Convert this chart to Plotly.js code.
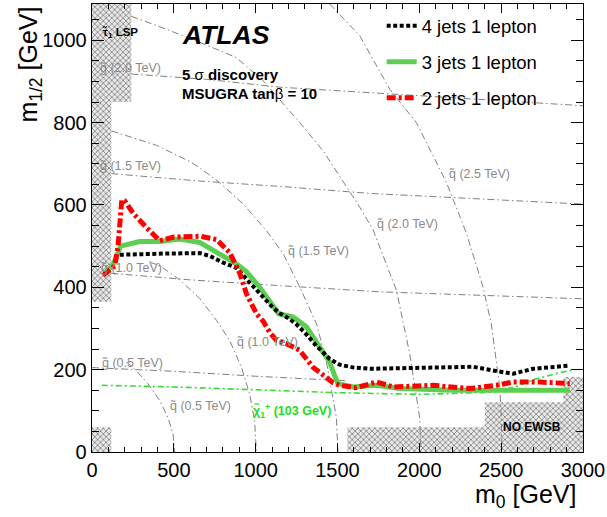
<!DOCTYPE html>
<html>
<head>
<meta charset="utf-8">
<script src="https://cdn.plot.ly/plotly-3.0.1.min.js"></script>
<style>html,body{margin:0;padding:0;background:#fff;}#chart{width:607px;height:517px;}</style>
</head>
<body>
<div id="chart"></div>
<script>
// ---------------- data (GeV) ----------------
const seriesNames = ["4 jets 1 lepton", "3 jets 1 lepton", "2 jets 1 lepton"];

const m0_4j  = [170, 300, 450, 659, 720, 801, 883, 943, 1046, 1107, 1147, 1200, 1249, 1300, 1371, 1452, 1513, 1600, 1700, 1880, 2083, 2328, 2450, 2572, 2694, 2919];
const m12_4j = [479, 481, 482, 483, 476, 460, 447, 420, 376, 350, 337, 325, 310, 290, 258, 226, 212, 205, 202, 203, 205, 207, 198, 190, 202, 210];

const m0_3j  = [78, 128, 175, 291, 414, 536, 658, 770, 882, 943, 1025, 1140, 1228, 1310, 1391, 1452, 1483, 1503, 1595, 1738, 1880, 2206, 2491, 2919];
const m12_3j = [434, 454, 500, 511, 511, 517, 509, 484, 457, 438, 400, 336, 328, 304, 252, 218, 185, 166, 158, 162, 154, 150, 150, 150];

const m0_2j  = [67, 139, 159, 172, 182, 200, 251, 333, 414, 500, 598, 659, 761, 842, 903, 944, 1006, 1045, 1087, 1127, 1188, 1269, 1350, 1432, 1473, 1513, 1615, 1738, 1839, 2083, 2308, 2471, 2572, 2735, 2919];
const m12_2j = [429, 452, 499, 590, 612, 610, 580, 545, 513, 522, 524, 524, 516, 484, 434, 384, 335, 318, 290, 271, 263, 247, 206, 182, 168, 162, 156, 170, 158, 162, 154, 162, 170, 170, 166];

// chargino 103 GeV contour
const m0_chi  = [60, 500, 1000, 1500, 2000, 2450, 2600, 2700, 2850, 2950];
const m12_chi = [162, 158, 151, 144, 140, 145, 160, 176, 192, 200];

// gluino mass contours
const g05_m0 = [0, 500, 1000, 1550];         const g05_m12 = [205, 196, 184, 173];
const g10_m0 = [118, 600, 1147, 1757, 3000]; const g10_m12 = [434, 418, 404, 389, 372];
const g15_m0 = [118, 659, 1148, 1697, 3000]; const g15_m12 = [676, 658, 645, 628, 602];
const g20_m0 = [240, 700, 1148, 2000, 3000]; const g20_m12 = [918, 905, 886, 866, 841];

// squark mass contours
const q05_m0 = [210, 251, 342, 414, 464, 495, 505];
const q05_m12 = [218, 206, 166, 125, 84, 44, 0];
const q10_m0 = [350, 424, 536, 658, 760, 841, 913, 963, 994, 1004];
const q10_m12 = [462, 450, 418, 373, 320, 271, 206, 141, 76, 0];
const q15_m0 = [118, 393, 600, 659, 781, 924, 1067, 1169, 1270, 1372, 1432, 1493, 1503];
const q15_m12 = [780, 745, 705, 690, 654, 602, 537, 481, 400, 311, 220, 84, 0];
const q20_m0 = [240, 400, 658, 882, 1050, 1269, 1413, 1535, 1637, 1717, 1860, 1941, 2002, 2010];
const q20_m12 = [1058, 1035, 995, 958, 900, 800, 731, 658, 594, 540, 393, 239, 84, 0];
const q25_m0 = [1452, 1636, 1819, 1982, 2165, 2287, 2389, 2440, 2491, 2501, 2505];
const q25_m12 = [1088, 1011, 881, 800, 655, 532, 401, 310, 158, 84, 0];

// excluded regions (hatched)
const lsp_m0  = [0, 118, 118, 240, 240, 0, 0];
const lsp_m12 = [365, 365, 850, 850, 1088, 1088, 365];
const low_m0  = [0, 118, 118, 0, 0];
const low_m12 = [0, 0, 60, 60, 0];
const ewsb_m0  = [1560, 3000, 3000, 2880, 2880, 2400, 2400, 1560, 1560];
const ewsb_m12 = [0, 0, 182, 182, 121, 121, 60, 60, 0];

const xTicks = [0, 500, 1000, 1500, 2000, 2500, 3000];
const yTicks = [0, 200, 400, 600, 800, 1000];

// ---------------- traces ----------------
const FONT = "Liberation Sans, Arial, Helvetica, sans-serif";
const gray = '#808080';
const hatch = {shape: 'x', size: 4, solidity: 0.4, fgcolor: '#8a8a8a', bgcolor: '#e8e8e8'};

function region(x, y) {
  return {x: x, y: y, type: 'scatter', mode: 'lines', fill: 'toself',
    fillcolor: '#e8e8e8', fillpattern: hatch, line: {width: 0, color: 'rgba(0,0,0,0)'},
    showlegend: false, hoverinfo: 'skip'};
}
function contour(x, y) {
  return {x: x, y: y, type: 'scatter', mode: 'lines',
    line: {color: gray, width: 1, dash: '7px,3px,1.5px,3px'}, showlegend: false, hoverinfo: 'skip'};
}

const traces = [
  region(lsp_m0, lsp_m12), region(low_m0, low_m12), region(ewsb_m0, ewsb_m12),
  contour(g05_m0, g05_m12), contour(g10_m0, g10_m12), contour(g15_m0, g15_m12), contour(g20_m0, g20_m12),
  contour(q05_m0, q05_m12), contour(q10_m0, q10_m12), contour(q15_m0, q15_m12), contour(q20_m0, q20_m12), contour(q25_m0, q25_m12),
  {x: m0_chi, y: m12_chi, type: 'scatter', mode: 'lines',
   line: {color: '#2ee02e', width: 1.6, dash: '6px,3px,2px,3px'}, showlegend: false, hoverinfo: 'skip'},
  {x: m0_3j, y: m12_3j, type: 'scatter', mode: 'lines', name: seriesNames[1],
   legendgroup: 'b', legendrank: 2, line: {color: '#5ccf52', width: 5}},
  {x: m0_4j, y: m12_4j, type: 'scatter', mode: 'lines', name: seriesNames[0],
   legendgroup: 'a', legendrank: 1, line: {color: '#000000', width: 4, dash: '4px,2.5px'}},
  {x: m0_2j, y: m12_2j, type: 'scatter', mode: 'lines', name: seriesNames[2],
   legendgroup: 'c', legendrank: 3, line: {color: '#ff0000', width: 5, dash: '9px,3px,3px,3px'}}
];

function lbl(x, y, text, opts) {
  return Object.assign({x: x, y: y, xref: 'x', yref: 'y', text: text, showarrow: false,
    font: {family: FONT, size: 12.5, color: '#8a8a8a'}, xanchor: 'center', yanchor: 'middle'}, opts || {});
}

const annotations = [
  lbl(237, 933, 'g\u0303 (2.0 TeV)'),
  lbl(237, 695, 'g\u0303 (1.5 TeV)'),
  lbl(243, 448, 'g\u0303 (1.0 TeV)'),
  lbl(249, 217, 'g\u0303 (0.5 TeV)'),
  lbl(665, 112, 'q\u0303 (0.5 TeV)'),
  lbl(1074, 268, 'q\u0303 (1.0 TeV)'),
  lbl(1381, 489, 'q\u0303 (1.5 TeV)'),
  lbl(1925, 554, 'q\u0303 (2.0 TeV)'),
  lbl(2366, 675, 'q\u0303 (2.5 TeV)'),
  lbl(1221, 100, '<b>\u03c7\u0303<sub>1</sub><sup>+</sup> (103 GeV)</b>', {font: {family: FONT, size: 12.5, color: '#22dd22'}}),
  lbl(2690, 61, '<b>NO EWSB</b>', {font: {family: FONT, size: 12, color: '#000'}}),
  lbl(47, 1018, '<b>\u03c4\u0303<sub>1</sub> LSP</b>', {xanchor: 'left', font: {family: FONT, size: 11.5, color: '#000'}}),
  lbl(818, 1013, '<b><i>ATLAS</i></b>', {font: {family: FONT, size: 26.5, color: '#000'}}),
  lbl(536, 918, '<b>5 </b>\u03c3<b> discovery</b>', {xanchor: 'left', font: {family: FONT, size: 15, color: '#000'}}),
  lbl(536, 871, '<b>MSUGRA tan</b>\u03b2<b> = 10</b>', {xanchor: 'left', font: {family: FONT, size: 15, color: '#000'}}),
  // axis titles
  {xref: 'paper', yref: 'paper', x: -0.127, y: 0.864, text: 'm<sub>1/2</sub> [GeV]', textangle: -90,
   showarrow: false, xanchor: 'center', yanchor: 'middle', font: {family: FONT, size: 25, color: '#000'}},
  {xref: 'paper', yref: 'paper', x: 0.99, y: 0, yshift: -44, text: 'm<sub>0</sub> [GeV]',
   showarrow: false, xanchor: 'right', yanchor: 'middle', font: {family: FONT, size: 25, color: '#000'}}
];

const axisCommon = {
  showgrid: false, zeroline: false, showline: true, linecolor: '#000', linewidth: 1.3,
  mirror: 'ticks', ticks: 'inside', tickcolor: '#000', tickwidth: 1,
  tickfont: {family: FONT, size: 20, color: '#000'}
};

const layout = {
  width: 607, height: 517,
  margin: {l: 92, r: 24, t: 4, b: 65},
  paper_bgcolor: '#fff', plot_bgcolor: '#fff',
  font: {family: FONT},
  xaxis: Object.assign({}, axisCommon, {range: [0, 3000], tickmode: 'array', tickvals: xTicks,
    ticklen: 9, minor: {dtick: 100, ticks: 'inside', ticklen: 5, tickcolor: '#000', showgrid: false}}),
  yaxis: Object.assign({}, axisCommon, {range: [0, 1088], tickmode: 'array', tickvals: yTicks,
    ticklen: 12, minor: {dtick: 50, ticks: 'inside', ticklen: 7, tickcolor: '#000', showgrid: false}}),
  showlegend: true,
  legend: {x: 0.59, y: 0.993, xanchor: 'left', yanchor: 'top', bgcolor: 'rgba(0,0,0,0)',
    font: {family: FONT, size: 18.5, color: '#000'}, traceorder: 'grouped', tracegroupgap: 9,
    itemwidth: 30},
  annotations: annotations
};

Plotly.newPlot('chart', traces, layout, {displayModeBar: false, staticPlot: true});
</script>
</body>
</html>
